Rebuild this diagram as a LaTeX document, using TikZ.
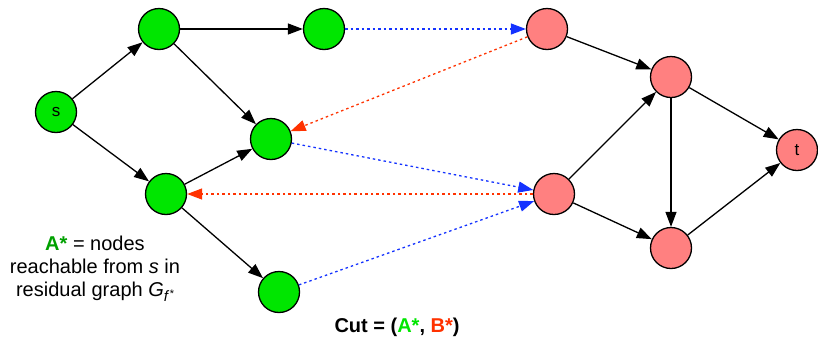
\documentclass[tikz,border=0pt]{standalone}
\usepackage{fontspec}
\setmainfont{Liberation Sans}
\usetikzlibrary{arrows.meta}
\definecolor{gfill}{RGB}{0,230,0}
\definecolor{rfill}{RGB}{255,128,128}
\definecolor{dblue}{RGB}{20,50,255}
\definecolor{dred}{RGB}{255,50,0}
\definecolor{dgreen}{RGB}{0,160,0}
\definecolor{bgreen}{RGB}{0,230,0}
\begin{document}
\begin{tikzpicture}[x=1pt,y=-1pt,
  vtx/.style={circle,draw=black,line width=1.3pt,minimum size=41pt,inner sep=0pt,font=\fontsize{17}{18}\selectfont},
  gv/.style={vtx,fill=gfill},
  rv/.style={vtx,fill=rfill},
  edge/.style={line width=1.3pt,-{Triangle[length=15pt,width=11pt]}},
  bdot/.style={dblue,line width=1.3pt,dash pattern=on 2.5pt off 3pt,-{Triangle[length=15pt,width=11pt]}},
  rdot/.style={dred,line width=1.3pt,dash pattern=on 2.5pt off 3pt,-{Triangle[length=15pt,width=11pt]}},
  lbl/.style={font=\fontsize{20}{23}\selectfont,align=center}]
\useasboundingbox (0,0) rectangle (818,341);
\node[gv] (s) at (56,112) {s};
\node[gv] (a) at (159,29) {};
\node[gv] (b) at (324,29) {};
\node[gv] (c) at (271,139) {};
\node[gv] (d) at (166,194) {};
\node[gv] (e) at (279,292) {};
\node[rv] (p) at (547,29) {};
\node[rv] (q) at (671,77) {};
\node[rv] (t) at (797,150) {t};
\node[rv] (r) at (554,194) {};
\node[rv] (u) at (671,248) {};
\draw[edge] (s) -- (a);
\draw[edge] (s) -- (d);
\draw[edge] (a) -- (b);
\draw[edge] (a) -- (c);
\draw[edge] (d) -- (c);
\draw[edge] (d) -- (e);
\draw[edge] (p) -- (q);
\draw[edge] (r) -- (q);
\draw[edge] (r) -- (u);
\draw[edge] (q) -- (u);
\draw[edge] (q) -- (t);
\draw[edge] (u) -- (t);
\draw[bdot] (b) -- (p);
\draw[rdot] (p) -- (c);
\draw[bdot] (c) -- (r);
\draw[rdot] (r) -- (d);
\draw[bdot] (e) -- (r);
\node[lbl] (note) at (95,269) {\textbf{\textcolor{dgreen}{A*}} = nodes\\reachable from \textit{s} in\\residual graph \textit{G}\raisebox{-5pt}{\fontsize{15}{15}\selectfont\textit{f}\raisebox{4pt}{\fontsize{11}{11}\selectfont\textit{*}}}};
\node[lbl,font=\fontsize{20}{22}\selectfont\bfseries] (cut) at (397,327) {Cut = (\textcolor{bgreen}{A*}, \textcolor{dred}{B*})};
\end{tikzpicture}
\end{document}
